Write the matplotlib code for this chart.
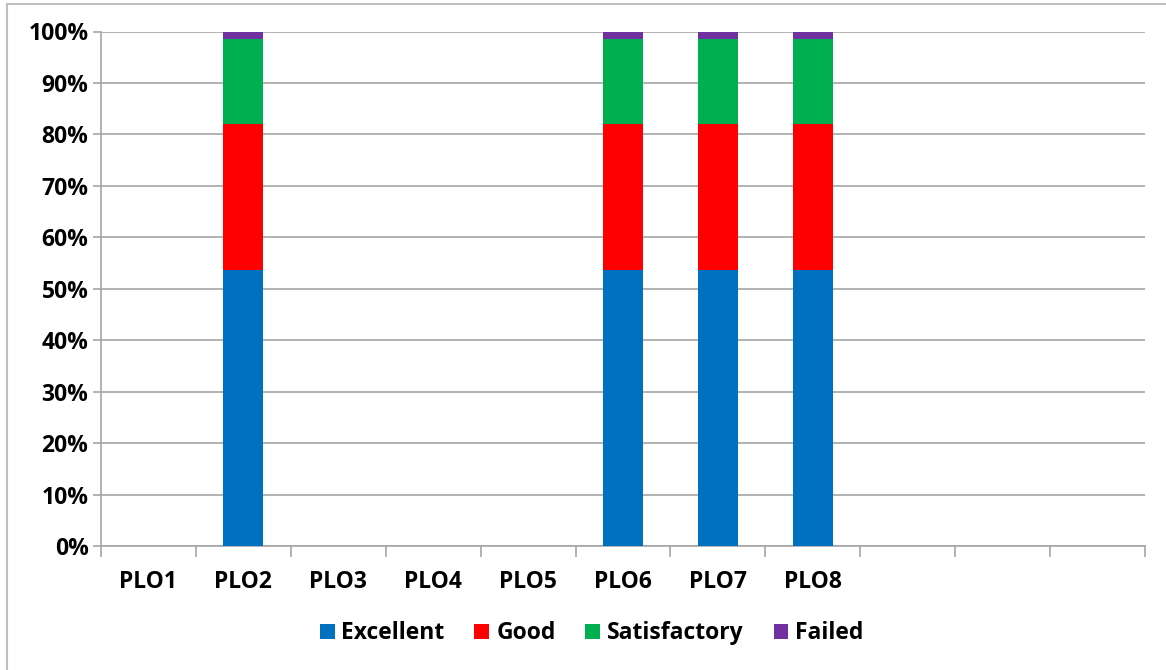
import numpy as np
import matplotlib.pyplot as plt
from matplotlib.patches import Rectangle
from matplotlib.ticker import PercentFormatter

plt.rcParams['font.family'] = ['Open Sans', 'DejaVu Sans']
plt.rcParams['font.weight'] = 'bold'

# Category slots (the last three are unused)
categories = ['PLO1', 'PLO2', 'PLO3', 'PLO4', 'PLO5', 'PLO6', 'PLO7', 'PLO8', '', '', '']

# Share of students per grade, in percent (NaN = no data for that PLO)
nan = np.nan
excellent    = [nan, 53.7, nan, nan, nan, 53.7, 53.7, 53.7, nan, nan, nan]
good         = [nan, 28.4, nan, nan, nan, 28.4, 28.4, 28.4, nan, nan, nan]
satisfactory = [nan, 16.4, nan, nan, nan, 16.4, 16.4, 16.4, nan, nan, nan]
failed       = [nan, 1.5, nan, nan, nan, 1.5, 1.5, 1.5, nan, nan, nan]

series = [
    ('Excellent', excellent, '#0070C0'),
    ('Good', good, '#FF0000'),
    ('Satisfactory', satisfactory, '#00B050'),
    ('Failed', failed, '#7030A0'),
]

fig = plt.figure(figsize=(11.66, 6.7), dpi=100)
ax = fig.add_axes([101 / 1166, 1 - 546 / 670, 1044 / 1166, 514.5 / 670])

x = np.arange(len(categories))
bottom = np.zeros(len(categories))
for name, vals, color in series:
    v = np.nan_to_num(np.array(vals, dtype=float))
    ax.bar(x, v, width=0.42, bottom=bottom, color=color, label=name, zorder=3)
    bottom += v

ax.set_xlim(-0.5, len(categories) - 0.5)
ax.set_ylim(0, 100)
ax.set_yticks(np.arange(0, 101, 10))
ax.yaxis.set_major_formatter(PercentFormatter(decimals=0))
ax.yaxis.grid(True, color='#A6A6A6', linewidth=1.2, zorder=0)

# category boundaries carry the tick marks, labels sit at the centres
ax.set_xticks(np.arange(-0.5, len(categories)), minor=False)
ax.set_xticklabels([])
ax.set_xticks(x, minor=True)
ax.set_xticklabels(categories, minor=True)
ax.tick_params(axis='x', which='major', direction='out', length=8, width=1.2,
               color='#A6A6A6')
ax.tick_params(axis='x', which='minor', length=0, pad=17, labelsize=16.5)
ax.tick_params(axis='y', direction='out', length=6, width=1.2, color='#A6A6A6',
               labelsize=16.5, pad=3)

for side in ['top', 'right']:
    ax.spines[side].set_visible(False)
for side in ['left', 'bottom']:
    ax.spines[side].set_color('#A6A6A6')
    ax.spines[side].set_linewidth(1.2)

ax.legend(loc='center', bbox_to_anchor=(0.47, -0.17), ncol=4, frameon=False,
          fontsize=16.5, handlelength=0.65, handleheight=0.65, handletextpad=0.3,
          columnspacing=1.3)

# thin frame along the left and top edges of the chart
fig.patches.append(Rectangle((7 / 1166, -0.1), 1.1, 1.1 - 4 / 670, transform=fig.transFigure,
                             fill=False, edgecolor='#BFBFBF', linewidth=1.5))

fig.savefig('out.png', dpi=100)
